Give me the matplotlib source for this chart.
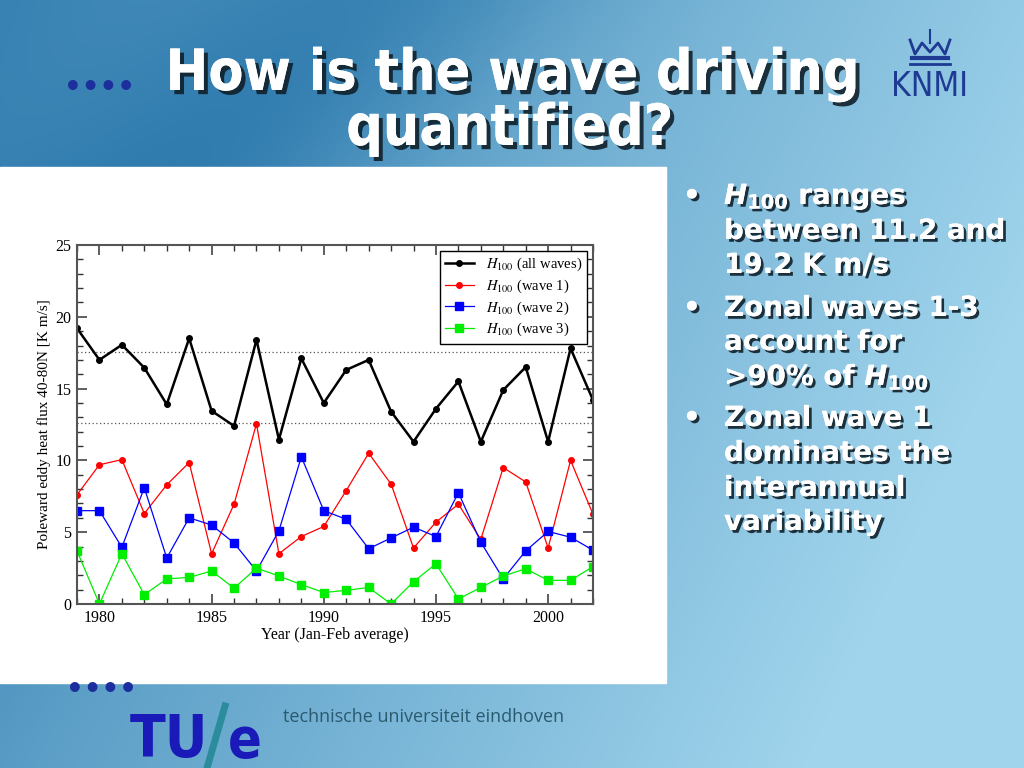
import numpy as np
import matplotlib
matplotlib.use("Agg")
import matplotlib.pyplot as plt
import matplotlib.patheffects as pe
from matplotlib.font_manager import FontProperties
from matplotlib.ticker import MultipleLocator

# 数据：1979-2002 年 H100 及各波数分量
years = list(range(1979, 2003))
h_all = [19.2, 17.0, 18.05, 16.45, 13.9, 18.5, 13.45, 12.4, 18.4, 11.45, 17.1, 14.0,
         16.3, 17.0, 13.4, 11.3, 13.6, 15.5, 11.3, 14.9, 16.5, 11.3, 17.8, 14.2]
h_wave1 = [7.6, 9.7, 10.05, 6.3, 8.3, 9.85, 3.5, 6.95, 12.55, 3.5, 4.7, 5.4,
           7.9, 10.5, 8.35, 3.9, 5.7, 6.95, 4.5, 9.5, 8.5, 3.9, 10.0, 6.25]
h_wave2 = [6.5, 6.5, 3.95, 8.1, 3.2, 6.0, 5.5, 4.25, 2.3, 5.1, 10.25, 6.5,
           5.9, 3.85, 4.6, 5.35, 4.7, 7.75, 4.3, 1.75, 3.7, 5.05, 4.65, 3.75]
h_wave3 = [3.7, 0.0, 3.5, 0.65, 1.75, 1.85, 2.3, 1.1, 2.5, 1.95, 1.35, 0.8,
           0.95, 1.15, 0.0, 1.55, 2.8, 0.35, 1.15, 1.95, 2.45, 1.65, 1.65, 2.6]
ref_levels = [17.55, 12.6]

title_lines = ["How is the wave driving", "quantified?"]
bullet_lines = [
    ("•", r"$H_{100}$ ranges"),
    ("", "between 11.2 and"),
    ("", "19.2 K m/s"),
    ("•", "Zonal waves 1-3"),
    ("", "account for"),
    ("", r">90% of $H_{100}$"),
    ("•", "Zonal wave 1"),
    ("", "dominates the"),
    ("", "interannual"),
    ("", "variability"),
]
bullet_baselines = [204, 239, 273, 316, 350, 385, 426, 461, 496, 530]

plt.rcParams['mathtext.fontset'] = 'dejavusans'
plt.rcParams['mathtext.rm'] = 'DejaVu Sans:bold'
plt.rcParams['mathtext.it'] = 'DejaVu Sans:bold:italic'
plt.rcParams['mathtext.bf'] = 'DejaVu Sans:bold'

fig = plt.figure(figsize=(10.24, 7.68), dpi=100)

# 背景：蓝色渐变（像素坐标）
bg = fig.add_axes([0, 0, 1, 1])
bg.set_xlim(0, 1024)
bg.set_ylim(768, 0)
bg.axis('off')
gx, gy = np.meshgrid(np.linspace(0, 1, 256), np.linspace(0, 1, 192))
band = np.exp(-((gx * 1.2 + gy * 0.9 - 0.45) ** 2) / 0.05)
t = np.clip(0.2 + 0.7 * gx + 0.25 * gy - 0.25 * band, 0, 1)
c0 = np.array([30, 110, 165]) / 255
c1 = np.array([160, 212, 236]) / 255
img = c0[None, None, :] * (1 - t[..., None]) + c1[None, None, :] * t[..., None]
bg.imshow(img, extent=[0, 1024, 768, 0], aspect='auto', zorder=0)

# 白色图表底板
bg.add_patch(plt.Rectangle((0, 167), 666, 516, color='white', zorder=1))

# 标题
shadow = [pe.withSimplePatchShadow(offset=(3, -3), shadow_rgbFace='#10202a', alpha=0.9), pe.Normal()]
fig.text(513 / 1024, 1 - 90 / 768, title_lines[0], ha='center', va='baseline',
         fontsize=41, fontweight='bold', family='DejaVu Sans', fontstretch='condensed',
         color='white', path_effects=shadow)
fig.text(510 / 1024, 1 - 145 / 768, title_lines[1], ha='center', va='baseline',
         fontsize=41, fontweight='bold', family='DejaVu Sans', fontstretch='condensed',
         color='white', path_effects=shadow)

# 装饰圆点
fig.text(100 / 1024, 1 - 96 / 768, "••••", ha='center', va='baseline',
         fontsize=20, color='#1c2f9c', fontweight='bold')
fig.text(102 / 1024, 1 - 698 / 768, "••••", ha='center', va='baseline',
         fontsize=20, color='#1c2f9c', fontweight='bold')

# KNMI 标志
fig.text(930 / 1024, 1 - 96 / 768, "KNMI", ha='center', va='baseline',
         fontsize=24, color='#1f3a93', family='DejaVu Sans', fontstretch='condensed')
cx = np.array([910, 915, 922, 930, 938, 945, 950])
cy = np.array([40, 54, 43, 52, 43, 54, 40])
bg.plot(cx, cy, color='#1f3a93', lw=2, zorder=3)
bg.plot([912, 948], [58, 58], color='#1f3a93', lw=3, zorder=3)
bg.plot([930, 930], [30, 43], color='#1f3a93', lw=1.5, zorder=3)
bg.plot([910, 950], [64, 64], color='#1f3a93', lw=2, zorder=3)

# TU/e 标志
fig.text(130 / 1024, 1 - 757 / 768, "TU", ha='left', va='baseline',
         fontsize=42, fontweight='bold', color='#1a1ab8', family='DejaVu Sans',
         fontstretch='condensed')
bg.plot([207, 225], [768, 706], color='#2a8c9c', lw=5, zorder=3)
fig.text(228 / 1024, 1 - 757 / 768, "e", ha='left', va='baseline',
         fontsize=40, fontweight='bold', color='#1a1ab8', family='DejaVu Sans',
         fontstretch='condensed')
fig.text(283 / 1024, 1 - 722 / 768, "technische universiteit eindhoven", ha='left',
         va='baseline', fontsize=13, color='#2b5a6e', family='Open Sans')

# 右侧要点
bshadow = [pe.withSimplePatchShadow(offset=(2, -2), shadow_rgbFace='#10202a', alpha=0.9), pe.Normal()]
for (mark, line), yb in zip(bullet_lines, bullet_baselines):
    if mark:
        fig.text(683 / 1024, 1 - yb / 768, mark, ha='left', va='baseline', fontsize=20,
                 fontweight='bold', color='white', family='DejaVu Sans', path_effects=bshadow)
    fig.text(724 / 1024, 1 - yb / 768, line, ha='left', va='baseline', fontsize=20,
             fontweight='bold', color='white', family='DejaVu Sans',
             math_fontfamily='custom', path_effects=bshadow)

# 图表
ax = fig.add_axes([77 / 1024, 1 - 604 / 768, 516 / 1024, 359 / 768])
ax.set_zorder(2)
for lv in ref_levels:
    ax.axhline(lv, color='#555555', lw=0.9, ls=(0, (1, 2)))
ax.plot(years, h_all, color='black', lw=1.8, marker='o', ms=4, label=r"$H_{100}$ (all waves)")
ax.plot(years, h_wave1, color='#ff0000', lw=0.9, marker='o', ms=4, label=r"$H_{100}$ (wave 1)")
ax.plot(years, h_wave2, color='#0000ff', lw=0.9, marker='s', ms=5.5, label=r"$H_{100}$ (wave 2)")
ax.plot(years, h_wave3, color='#00ee00', lw=0.9, marker='s', ms=5.5, label=r"$H_{100}$ (wave 3)")

ax.set_xlim(1979, 2002)
ax.set_ylim(0, 25)
ax.xaxis.set_major_locator(MultipleLocator(5))
ax.xaxis.set_minor_locator(MultipleLocator(1))
ax.yaxis.set_major_locator(MultipleLocator(5))
ax.yaxis.set_minor_locator(MultipleLocator(1))
ax.tick_params(which='both', direction='in', top=True, right=True, color='#333333')
ax.tick_params(which='major', length=7, width=1.1, labelsize=11.5, pad=4)
ax.tick_params(which='minor', length=4, width=1.0)
for lab in ax.get_xticklabels() + ax.get_yticklabels():
    lab.set_family('Liberation Serif')
for s in ax.spines.values():
    s.set_color('#555555')
    s.set_linewidth(1.5)
ax.set_xlabel("Year (Jan-Feb average)", family='Liberation Serif', fontsize=11.5, labelpad=1)
ax.set_ylabel("Poleward eddy heat flux 40-80N [K m/s]", family='Liberation Serif',
              fontsize=11, labelpad=3)

leg = ax.legend(loc='upper right', prop=FontProperties(family='Liberation Serif', size=10.5,
                math_fontfamily='stix'), fancybox=False, edgecolor='black', framealpha=1,
                handlelength=2.0, borderaxespad=0.4, labelspacing=0.3, borderpad=0.35)
leg.get_frame().set_linewidth(1.0)

fig.savefig("out.png", dpi=100)
